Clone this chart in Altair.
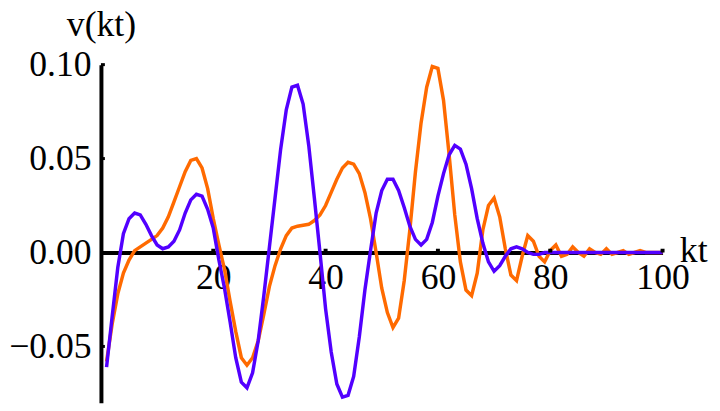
import altair as alt
import pandas as pd

kt = list(range(1, 101))

orange_v = [
    -0.058, -0.038, -0.022, -0.011, -0.004, 0.001, 0.003, 0.005, 0.007, 0.009,
    0.013, 0.019, 0.027, 0.035, 0.043, 0.049, 0.050, 0.045, 0.034, 0.018,
    0.004, -0.009, -0.026, -0.042, -0.056, -0.060, -0.056, -0.047, -0.033, -0.018,
    -0.007, 0.002, 0.009, 0.013, 0.014, 0.0145, 0.015, 0.017, 0.020, 0.025,
    0.032, 0.039, 0.045, 0.048, 0.047, 0.042, 0.032, 0.018, 0.000, -0.019,
    -0.032, -0.040, -0.035, -0.015, 0.012, 0.043, 0.069, 0.088, 0.099, 0.098,
    0.081, 0.052, 0.020, -0.005, -0.020, -0.023, -0.011, 0.012, 0.025, 0.029,
    0.019, 0.002, -0.012, -0.015, -0.002, 0.009, 0.006, -0.002, -0.005, 0.001,
    0.004, -0.002, -0.001, 0.003, 0.000, -0.002, 0.002, 0.000, -0.001, 0.002,
    -0.001, 0.000, 0.001, -0.001, 0.000, 0.001, 0.000, 0.000, 0.000, 0.000,
]

blue_v = [
    -0.061, -0.034, -0.008, 0.010, 0.018, 0.021, 0.020, 0.015, 0.009, 0.004,
    0.002, 0.003, 0.006, 0.012, 0.021, 0.028, 0.031, 0.030, 0.023, 0.013,
    -0.004, -0.019, -0.037, -0.056, -0.069, -0.072, -0.064, -0.047, -0.023, 0.003,
    0.029, 0.055, 0.076, 0.088, 0.089, 0.079, 0.057, 0.029, 0.000, -0.030,
    -0.053, -0.070, -0.077, -0.076, -0.066, -0.045, -0.020, 0.001, 0.021, 0.033,
    0.039, 0.039, 0.033, 0.024, 0.014, 0.007, 0.004, 0.007, 0.016, 0.030,
    0.042, 0.052, 0.057, 0.055, 0.047, 0.034, 0.018, 0.005, -0.005, -0.010,
    -0.007, -0.002, 0.002, 0.003, 0.002, 0.000, -0.001, -0.001, 0.000, 0.000,
    0.000, 0.000, 0.000, 0.000, 0.000, 0.000, 0.000, 0.000, 0.000, 0.000,
    0.000, 0.000, 0.000, 0.000, 0.000, 0.000, 0.000, 0.000, 0.000, 0.000,
]

series_names = ["orange", "blue"]
series_colors = ["#FF6A00", "#5200FF"]

x_ticks = [20, 40, 60, 80, 100]
y_ticks = [-0.05, 0.0, 0.05, 0.10]
x_domain = [0, 100]
y_domain = [-0.08, 0.10]

W, H = 568, 342
FONT = "Liberation Serif"
FS = 36

df = pd.DataFrame({
    "kt": kt + kt,
    "v": orange_v + blue_v,
    "s": ["orange"] * len(kt) + ["blue"] * len(kt),
    "o": [0] * len(kt) + [1] * len(kt),
})
xt = pd.DataFrame({"kt": x_ticks})
yt = pd.DataFrame({"v": [t for t in y_ticks if t != 0]})

xscale = alt.Scale(domain=x_domain, nice=False, zero=False)
yscale = alt.Scale(domain=y_domain, nice=False, zero=False)

x_off = -H * (0 - y_domain[0]) / (y_domain[1] - y_domain[0])

x_axis = alt.Axis(
    values=x_ticks, title="kt", ticks=False, grid=False,
    domainWidth=4, domainColor="black",
    labelFont=FONT, labelFontSize=FS, labelColor="black", labelPadding=8,
    labelFlush=False, labelOverlap=False,
    offset=x_off,
    titleFont=FONT, titleFontSize=FS, titleFontWeight="normal", titleColor="black",
    titleX=W + 17, titleY=9, titleAlign="left", titleBaseline="alphabetic",
)
y_axis = alt.Axis(
    values=y_ticks, format=".2f", title="v(kt)", ticks=False, grid=False,
    domainWidth=4, domainColor="black",
    labelFont=FONT, labelFontSize=FS, labelColor="black", labelPadding=10,
    labelFlush=False, labelOverlap=False,
    titleFont=FONT, titleFontSize=FS, titleFontWeight="normal", titleColor="black",
    titleAngle=0, titleX=0, titleY=-29, titleAlign="center", titleBaseline="alphabetic",
)

lines = alt.Chart(df).mark_line(strokeWidth=3.5).encode(
    x=alt.X("kt:Q", scale=xscale, axis=x_axis),
    y=alt.Y("v:Q", scale=yscale, axis=y_axis),
    color=alt.Color("s:N", scale=alt.Scale(domain=series_names, range=series_colors), legend=None),
    order="o:Q",
    detail="s:N",
)

xticks = alt.Chart(xt).mark_rule(strokeWidth=4, color="black").encode(
    x=alt.X("kt:Q", scale=xscale),
    y=alt.datum(0),
    y2=alt.datum(0.002),
)
yticks = alt.Chart(yt).mark_rule(strokeWidth=3, color="black").encode(
    y=alt.Y("v:Q", scale=yscale),
    x=alt.datum(0),
    x2=alt.datum(0.7),
)

chart = alt.layer(lines, xticks, yticks).properties(
    width=W, height=H,
    autosize=alt.AutoSizeParams(type="none"),
    padding={"left": 94, "top": 55, "right": 50, "bottom": 4},
    background="white",
).configure_view(stroke=None)

chart.save("out.html", embed_options={"renderer": "svg", "actions": False})
